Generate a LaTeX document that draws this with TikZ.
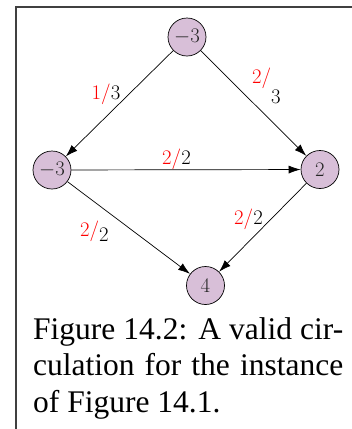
\documentclass[tikz,border=0pt]{standalone}
\usepackage{fontspec}
\newfontfamily\capfont{Liberation Serif}
\usetikzlibrary{arrows.meta}
\definecolor{nodefill}{RGB}{216,191,216}
\definecolor{framegray}{RGB}{64,64,64}
\begin{document}
\begin{tikzpicture}[x=1pt,y=-1pt,
  vertex/.style={circle,draw=black,line width=0.7pt,fill=nodefill,minimum size=38pt,inner sep=0pt,font=\fontsize{21}{25}\selectfont,text=black!85},
  flow/.style={-{Latex[length=12pt,width=8pt]},line width=0.7pt},
  lbl/.style={inner sep=0pt,font=\fontsize{21.5}{25}\selectfont},
  captext/.style={inner sep=0pt,anchor=base west,font=\capfont\fontsize{31.5}{37}\selectfont}]
\useasboundingbox (0,0) rectangle (352,429);
\draw[framegray,line width=1.3pt] (16,429) -- (16,7) -- (352,7);

\node[vertex] (t) at (187,37) {$-3$};
\node[vertex] (l) at (52,170) {$-3$};
\node[vertex] (r) at (320,169.5) {$2$};
\node[vertex] (b) at (205.5,285.5) {$4$};

\draw[flow] (t) -- (l);
\draw[flow] (t) -- (r);
\draw[flow] (l) -- (r);
\draw[flow] (l) -- (b);
\draw[flow] (r) -- (b);

\node[lbl,anchor=base] (ltl) at (106,99) {$\color{red}1/\color{black}3$};
\node[lbl,anchor=base west] (ltr) at (252,83) {$\color{red}2/\color{black}\lower20pt\hbox{$3$}$};
\node[lbl,anchor=base] (llr) at (176.5,164) {$\color{red}2/\color{black}2$};
\node[lbl,anchor=base west] (llb) at (80,236) {$\color{red}2/\color{black}\lower5pt\hbox{$2$}$};
\node[lbl,anchor=base] (lrb) at (248.5,224) {$\color{red}2/\color{black}2$};

\node[captext] (c1) at (33,339) {\makebox[310pt][s]{Figure 14.2: A valid cir-}};
\node[captext] (c2) at (33,375.5) {\makebox[310pt][s]{culation for the instance}};
\node[captext] (c3) at (33,412) {of Figure 14.1.};
\end{tikzpicture}
\end{document}
